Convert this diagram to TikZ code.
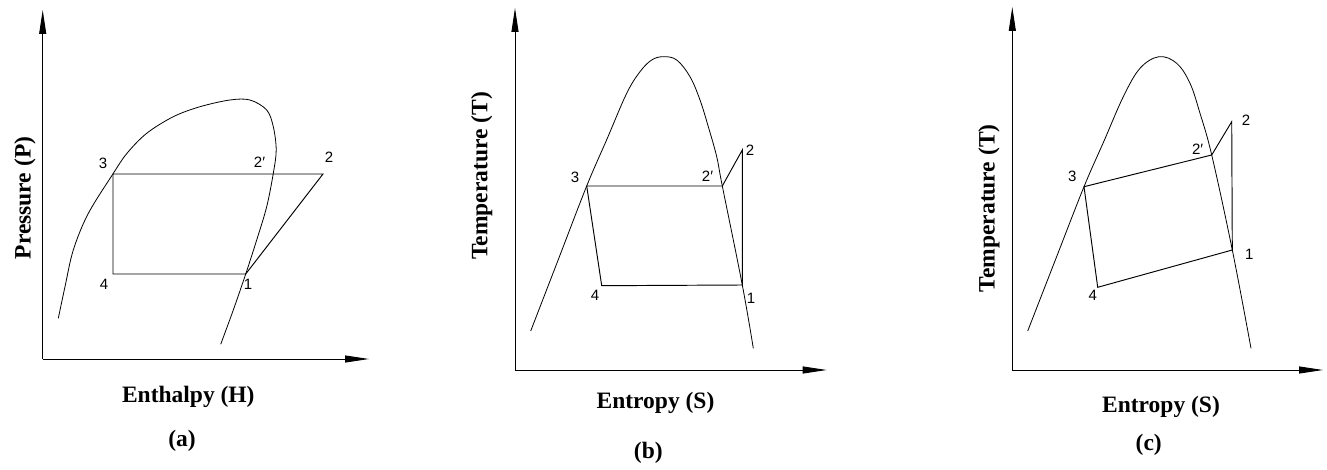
\documentclass[tikz,border=0pt]{standalone}
\usepackage{fontspec}
\setmainfont{Liberation Serif}
\newfontfamily\labfont{Liberation Sans}
\usetikzlibrary{arrows.meta}
\begin{document}
\begin{tikzpicture}[x=1pt,y=-1pt,
  axis/.style={line width=0.9pt,-{Triangle[length=24pt,width=7pt]}},
  curve/.style={line width=0.8pt},
  cyc/.style={line width=0.95pt,line join=miter},
  ptlab/.style={font=\labfont\fontsize{15}{15}\selectfont,inner sep=0pt},
  axlab/.style={font=\bfseries\fontsize{23.5}{26}\selectfont,inner sep=0pt},
  sublab/.style={font=\bfseries\fontsize{23.5}{26}\selectfont,inner sep=0pt}]
\useasboundingbox (0,0) rectangle (1327,470);

% ---------------- (a) ----------------
\coordinate (ao) at (42.7,359);
\coordinate (ay) at (42.7,10);
\coordinate (ax) at (369,359);
\draw[axis] (ao) -- (ay);
\draw[axis] (ao) -- (ax);
\draw[curve] plot[smooth,tension=0.55] coordinates {
 (58.3,318.3) (65,286.7) (73.3,250) (88,214) (112.7,174.3) (127,153.3)
 (146.7,133.3) (173.3,116.7) (200,106.7) (230,100) (250,100)
 (266.7,110) (273.3,126.7) (276.2,150) (273.3,173.3) (266.7,206.7)
 (256.7,240) (245.7,274) (233.3,310) (220.7,344.3)};
\coordinate (a3) at (113,174);
\coordinate (a2) at (323,174);
\coordinate (a1) at (245.7,274);
\coordinate (a4) at (113,274);
\draw[cyc] (a3) -- (a2) -- (a1) -- (a4) -- cycle;
\node[ptlab] (la3) at (103,163) {3};
\node[ptlab] (la2p) at (259.5,162.5) {2′};
\node[ptlab] (la2) at (329,157) {2};
\node[ptlab] (la4) at (104,284) {4};
\node[ptlab] (la1) at (248,284) {1};
\node[axlab,rotate=90] (ya) at (25,198) {Pressure (P)};
\node[axlab] (xa) at (188.3,397) {Enthalpy (H)};
\node[sublab] (sa) at (182,441) {(a)};

% ---------------- (b) ----------------
\coordinate (bo) at (515,370);
\coordinate (by) at (515,8);
\coordinate (bx) at (826.7,370);
\draw[axis] (bo) -- (by);
\draw[axis] (bo) -- (bx);
\draw[curve] plot[smooth,tension=0.6] coordinates {
 (530.7,331) (558.7,258.5) (586.7,186) (607,139) (626.7,93.3) (640,71.7)
 (651.7,60) (663.3,56.7) (676.7,60) (690,76.7) (700,100) (708.3,126.7)
 (716.7,156.7) (722.3,186) (742.3,285) (753.3,348.3)};
\coordinate (b3) at (586.7,186);
\coordinate (b2p) at (722.3,186);
\coordinate (b2) at (742.3,150);
\coordinate (b1) at (742.3,285);
\coordinate (b4) at (601.7,285.7);
\draw[cyc] (b3) -- (b2p) -- (b2) -- (b1) -- (b4) -- cycle;
\node[ptlab] (lb3) at (575,177) {3};
\node[ptlab] (lb2p) at (707.5,176) {2′};
\node[ptlab] (lb2) at (750,150) {2};
\node[ptlab] (lb4) at (595,295) {4};
\node[ptlab] (lb1) at (751,298) {1};
\node[axlab,rotate=90] (yb) at (481.7,175.8) {Temperature (T)};
\node[axlab] (xb) at (655.5,402.7) {Entropy (S)};
\node[sublab] (sb) at (648.3,452.5) {(b)};

% ---------------- (c) ----------------
\coordinate (co) at (1012.3,370);
\coordinate (cy) at (1012.3,7);
\coordinate (cx) at (1323,370);
\draw[axis] (co) -- (cy);
\draw[axis] (co) -- (cx);
\draw[curve] plot[smooth,tension=0.6] coordinates {
 (1027.7,331) (1055.8,258.8) (1084,186.7) (1104,141) (1123.3,96.7) (1140,68.3)
 (1159,56.7) (1176.7,63.3) (1190,83.3) (1200,113.3) (1211.7,155)
 (1232.3,250) (1251,348.3)};
\coordinate (c3) at (1084,186.7);
\coordinate (c2p) at (1211.7,155);
\coordinate (c2) at (1231.7,121.7);
\coordinate (c1) at (1232.3,250);
\coordinate (c4) at (1097.7,287.3);
\draw[cyc] (c3) -- (c2p) -- (c2) -- (c1) -- (c4) -- cycle;
\node[ptlab] (lc3) at (1072.3,176.7) {3};
\node[ptlab] (lc2p) at (1197.7,149) {2′};
\node[ptlab] (lc2) at (1246,120) {2};
\node[ptlab] (lc1) at (1249.3,254) {1};
\node[ptlab] (lc4) at (1092.7,295) {4};
\node[axlab,rotate=90] (yc) at (989,208.3) {Temperature (T)};
\node[axlab] (xc) at (1161,407.3) {Entropy (S)};
\node[sublab] (sc) at (1148.7,445) {(c)};
\end{tikzpicture}
\end{document}
